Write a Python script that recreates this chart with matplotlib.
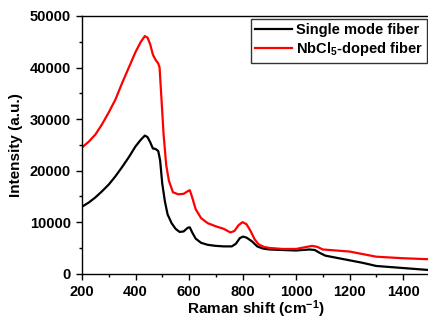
import matplotlib
matplotlib.use("Agg")
import matplotlib.pyplot as plt
from matplotlib.ticker import MultipleLocator

plt.rcParams['font.family'] = ['Liberation Sans', 'DejaVu Sans']
plt.rcParams['font.weight'] = 'bold'
plt.rcParams['mathtext.fontset'] = 'custom'
plt.rcParams['mathtext.rm'] = 'Liberation Sans:bold'
plt.rcParams['mathtext.bf'] = 'Liberation Sans:bold'
plt.rcParams['mathtext.it'] = 'Liberation Sans:bold'
plt.rcParams['mathtext.default'] = 'bf'

smf_x = [200, 225, 250, 275, 300, 325, 350, 375, 400, 420, 435, 445, 455, 465, 475, 485, 492, 500, 510, 520,
         535, 550, 565, 580, 595, 603, 612, 625, 645, 670, 700, 730, 760, 775, 790, 802, 815, 835, 855, 875,
         900, 950, 1000, 1050, 1070, 1090, 1110, 1150, 1200, 1250, 1300, 1350, 1400, 1450, 1500]
smf_y = [13000, 13800, 14800, 16000, 17300, 18900, 20700, 22600, 24700, 26000, 26800, 26500, 25500, 24300, 24200, 23800, 22000, 17500, 14000, 11500,
         9800, 8700, 8100, 8200, 8900, 9000, 8000, 6800, 6000, 5600, 5400, 5300, 5300, 5800, 6900, 7200, 7000, 6300, 5300, 4900,
         4700, 4600, 4500, 4700, 4600, 4000, 3500, 3100, 2600, 2100, 1500, 1300, 1100, 900, 700]

nb_x = [200, 225, 250, 275, 300, 325, 350, 375, 400, 420, 435, 445, 455, 465, 475, 485, 490, 497, 505, 515,
        525, 540, 560, 580, 595, 603, 612, 625, 645, 670, 700, 730, 755, 770, 785, 800, 815, 830, 845, 860,
        880, 900, 950, 1000, 1030, 1060, 1080, 1100, 1150, 1200, 1250, 1300, 1350, 1400, 1450, 1500]
nb_y = [24500, 25600, 27000, 29000, 31300, 33800, 37000, 40000, 43000, 45000, 46100, 45800, 44500, 42500, 41500, 40800, 40000, 34000, 27000, 21000,
        18000, 15800, 15400, 15500, 16000, 16200, 14800, 12500, 10800, 9800, 9200, 8700, 8000, 8300, 9400, 10000, 9600, 8300, 6700, 5700,
        5200, 5000, 4800, 4800, 5100, 5400, 5200, 4700, 4500, 4300, 3800, 3300, 3150, 3000, 2900, 2800]

labels = ['Single mode fiber', r'NbCl$_5$-doped fiber']

fig = plt.figure(figsize=(4.28, 3.22), dpi=100)
ax = fig.add_axes([82/428, 48.3/322, 347.75/428, 257.7/322])
ax.plot(smf_x, smf_y, color='black', lw=1.6, label=labels[0])
ax.plot(nb_x, nb_y, color='#ff0000', lw=1.6, label=labels[1])

ax.set_xlim(200, 1500)
ax.set_ylim(0, 50000)
ax.xaxis.set_major_locator(MultipleLocator(200))
ax.xaxis.set_minor_locator(MultipleLocator(100))
ax.yaxis.set_major_locator(MultipleLocator(10000))
ax.yaxis.set_minor_locator(MultipleLocator(5000))
ax.tick_params(which='major', direction='out', length=4, width=1, labelsize=10.5, pad=4)
ax.tick_params(which='minor', direction='out', length=2.5, width=1)
ax.tick_params(top=False, right=False, which='both')
for s in ax.spines.values():
    s.set_linewidth(1.0)

ax.set_xlabel(r'Raman shift (cm$^{-1}$)', fontsize=11, fontweight='bold', labelpad=0)
ax.set_ylabel('Intensity (a.u.)', fontsize=11, fontweight='bold', labelpad=5)

leg = ax.legend(loc='upper right', bbox_to_anchor=(427/428, 1-19/322), bbox_transform=fig.transFigure,
                fontsize=10.5, frameon=True, fancybox=False, edgecolor='black', handlelength=2.5,
                handletextpad=0.3, borderpad=0.3, labelspacing=0.2, borderaxespad=0)
leg.get_frame().set_linewidth(1.0)

fig.savefig('out.png', dpi=100)
